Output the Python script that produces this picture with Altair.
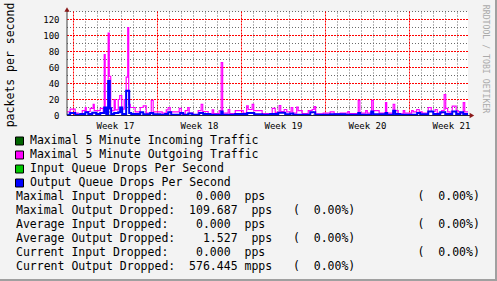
import altair as alt
import pandas as pd

# ---- data (time in days from the start of Week 17) ----
# Maximal 5 Minute Outgoing Traffic (magenta), packets per second
out_t = [-0.54, -0.28, 0.14, 0.39, 0.73, 0.98, 1.06, 1.39, 1.64, 1.73, 2.23, 2.48, 2.56, 2.64,
         2.89, 2.98, 3.10, 3.39, 3.48, 3.73, 3.85, 4.02, 4.23, 4.39, 4.52, 4.60, 4.73, 5.14,
         5.56, 5.81, 6.06, 6.48, 6.64, 7.39, 7.73, 7.89, 8.06, 8.81, 8.98, 9.31, 9.52, 9.64,
         9.98, 10.39, 10.64, 10.77, 11.22, 11.56, 11.68, 12.14, 12.31, 12.43, 12.89, 13.02,
         13.48, 14.14, 14.43, 14.56, 14.89, 15.02, 15.72, 16.56, 16.81, 17.14, 17.27, 17.56,
         17.77, 18.14, 18.27, 18.60, 18.72, 19.06, 19.56, 19.89, 20.06, 20.18, 20.81, 21.39,
         21.72, 22.22, 22.86, 22.98, 23.73, 23.86, 24.35, 24.48, 24.85, 24.98, 25.14, 25.47,
         26.00, 26.10, 26.64, 26.77, 27.06, 27.48, 27.60, 28.18, 28.31, 28.60, 28.81, 29.06,
         29.56, 29.81, 30.14, 30.31, 30.68, 30.89, 31.02, 31.18, 31.39, 31.56, 31.89, 32.06,
         32.23, 32.48, 32.60, 32.875]
out_v = [4.5, 8, 3, 1, 6, 10, 5, 9, 14, 6, 9, 4, 76, 5,
         103, 49, 6, 20, 7, 20, 25, 8, 20, 48, 110, 14, 10, 4.5,
         10, 12, 3, 19, 4.5, 3, 7, 10, 4.5, 9, 2, 6, 10, 3,
         1, 6, 14, 5, 2.5, 7, 2.5, 6, 66, 3, 7.5, 2.5,
         6, 3, 12, 7.5, 14, 6, 2.5, 9, 4, 12.5, 5, 7.5,
         4.5, 10, 3, 10.5, 6, 2.5, 6, 7.5, 11, 2, 3, 4.5,
         2, 3, 5, 2.5, 19, 3, 6, 3, 19, 6, 6, 3,
         16, 3, 14, 6, 2, 6, 3, 6, 4.5, 7.5, 4.5, 3,
         10, 5, 7.5, 3, 6, 26, 9, 4.5, 2, 11.7, 6, 4.5,
         3, 16, 4.5, 4.5]

# Output Queue Drops Per Second (blue), packets per second
drop_t = [-0.54, -0.28, 0.14, 0.56, 0.98, 1.23, 1.56, 1.89, 2.23, 2.56, 2.73, 2.89, 3.02, 3.14,
          3.39, 3.73, 3.89, 4.06, 4.39, 4.64, 4.81, 5.56, 5.81, 6.39, 6.64, 7.23, 7.64, 7.89,
          8.14, 8.89, 9.14, 9.56, 9.89, 10.48, 10.81, 11.39, 12.31, 12.43, 13.48, 14.48, 15.06,
          15.72, 16.39, 17.06, 17.64, 18.06, 18.31, 19.73, 20.14, 21.39, 22.64, 23.73, 23.89,
          24.81, 24.98, 26.00, 26.14, 26.64, 26.81, 27.23, 28.64, 28.89, 29.56, 29.98, 30.56,
          30.98, 31.56, 31.89, 32.23, 32.48, 32.875]
drop_v = [1, 3, 1, 2, 4, 2, 3.5, 2, 3, 10, 2, 43, 9, 2,
          3, 4, 10, 2, 31, 3, 2, 4, 1.5, 3, 1.5, 1, 2, 4,
          1, 3, 1, 2.5, 1, 3, 2, 1, 5, 1, 2, 3, 1.5,
          1, 2, 3.5, 1.5, 2.5, 1, 4, 1, 1.5, 1, 3, 1,
          5, 1.5, 3, 1, 6, 2, 1, 3, 1.5, 5, 2, 4,
          2, 5, 2, 4, 2, 2]

week_labels = ["Week 17", "Week 18", "Week 19", "Week 20", "Week 21"]
y_tick_values = [0, 20, 40, 60, 80, 100, 120]
y_title = "packets per second"

legend_items = ["Maximal 5 Minute Incoming Traffic", "Maximal 5 Minute Outgoing Traffic",
                "Input Queue Drops Per Second", "Output Queue Drops Per Second"]
legend_colors = ["#006400", "#ff00ff", "#00c800", "#0000ff"]

stat_labels = ["Maximal Input Dropped:", "Maximal Output Dropped:", "Average Input Dropped:",
               "Average Output Dropped:", "Current Input Dropped:", "Current Output Dropped:"]
stat_values = ["0.000", "109.687", "0.000", "1.527", "0.000", "576.445"]
stat_units = ["pps", "pps", "pps", "pps", "pps", "mpps"]
stat_pcts = ["(  0.00%)"] * 6

watermark = "RRDTOOL / TOBI OETIKER"

# ---- layout ----
PL, PT = 67, 11.5        # plot origin inside the 497x281 canvas
W, H = 401, 104
MONO = "DejaVu Sans Mono"
X0, X1 = -0.5417, 32.875
Y1 = 130

xscale = alt.Scale(domain=[X0, X1], nice=False, zero=False)
yscale = alt.Scale(domain=[0, Y1], nice=False, zero=True)

n_days = 33
week_lines = [d for d in range(n_days) if d % 7 == 0]
day_lines = [d for d in range(n_days) if d % 7 != 0]
week_mid = [7 * i + 3.5 for i in range(len(week_labels))]

one = pd.DataFrame({"a": [0]})
layers = []


def hgrid(vals, color, dash):
    return alt.Chart(pd.DataFrame({"v": vals})).mark_rule(
        color=color, strokeDash=dash, strokeWidth=1, opacity=1
    ).encode(y=alt.Y("v:Q", scale=yscale, axis=None),
             x=alt.datum(X0, scale=xscale, axis=None), x2=alt.datum(X1))


def vgrid(vals, color, dash):
    return alt.Chart(pd.DataFrame({"d": vals})).mark_rule(
        color=color, strokeDash=dash, strokeWidth=1, opacity=1
    ).encode(x=alt.X("d:Q", scale=xscale, axis=None),
             y=alt.datum(0, scale=yscale, axis=None), y2=alt.datum(Y1))


layers += [hgrid(list(range(10, 131, 20)), "#6a6a6a", [1, 2]),
           vgrid(day_lines, "#6a6a6a", [1, 2]),
           hgrid(list(range(20, 121, 20)), "#ff0000", [2, 1]),
           vgrid(week_lines, "#ff0000", [2, 1])]

# series
layers.append(alt.Chart(pd.DataFrame({"t": out_t, "v": out_v})).mark_line(
    interpolate="step-after", color="#ff00ff", strokeWidth=1.2
).encode(x=alt.X("t:Q", scale=xscale, axis=None), y=alt.Y("v:Q", scale=yscale, axis=None)))
layers.append(alt.Chart(pd.DataFrame({"t": drop_t, "v": drop_v})).mark_line(
    interpolate="step-after", color="#0000ff", strokeWidth=2
).encode(x=alt.X("t:Q", scale=xscale, axis=None), y=alt.Y("v:Q", scale=yscale, axis=None)))

# axes lines, arrows
layers.append(alt.Chart(one).mark_rule(color="#202040", strokeWidth=1).encode(
    x=alt.datum(X0, scale=xscale, axis=None), x2=alt.datum(33.1),
    y=alt.datum(0, scale=yscale, axis=None)))
layers.append(alt.Chart(one).mark_rule(color="#404040", strokeWidth=1).encode(
    x=alt.datum(X0, scale=xscale, axis=None),
    y=alt.datum(0, scale=yscale, axis=None), y2=alt.datum(132)))
layers.append(alt.Chart(one).mark_point(
    shape="triangle-up", filled=True, size=28, color="#8b1a1a", opacity=1
).encode(x=alt.datum(X0, scale=xscale, axis=None),
         y=alt.datum(132.5, scale=yscale, axis=None)))
layers.append(alt.Chart(one).mark_point(
    shape="triangle-right", filled=True, size=28, color="#8b1a1a", opacity=1
).encode(x=alt.datum(33.2, scale=xscale, axis=None),
         y=alt.datum(0, scale=yscale, axis=None)))

# axis labels
layers.append(alt.Chart(pd.DataFrame({"v": y_tick_values, "s": [str(v) for v in y_tick_values]}))
              .mark_text(font=MONO, fontSize=9, align="right", baseline="middle", color="#000000")
              .encode(y=alt.Y("v:Q", scale=yscale, axis=None), x=alt.value(59.5 - PL), text="s:N"))
layers.append(alt.Chart(pd.DataFrame({"t": week_mid, "s": week_labels}))
              .mark_text(font=MONO, fontSize=9, align="center", baseline="middle", color="#000000")
              .encode(x=alt.X("t:Q", scale=xscale, axis=None), y=alt.value(125.5 - PT), text="s:N"))
layers.append(alt.Chart(one).mark_text(
    font=MONO, fontSize=11.5, angle=270, align="center", baseline="middle", color="#000000"
).encode(x=alt.value(11 - PL), y=alt.value(65 - PT), text=alt.value(y_title)))

# legend squares and texts
ROW0, ROWH = 141, 14
for i, (name, col) in enumerate(zip(legend_items, legend_colors)):
    cy = ROW0 + i * ROWH
    layers.append(alt.Chart(one).mark_rect(color=col, stroke="#000000", strokeWidth=1).encode(
        x=alt.value(15.5 - PL), x2=alt.value(23.5 - PL),
        y=alt.value(cy - 4 - PT), y2=alt.value(cy + 4 - PT)))
    layers.append(alt.Chart(one).mark_text(
        font=MONO, fontSize=11.5, align="left", baseline="middle", color="#000000"
    ).encode(x=alt.value(30 - PL), y=alt.value(cy - PT), text=alt.value(name)))

for j, (lab, val, unit, pct) in enumerate(zip(stat_labels, stat_values, stat_units, stat_pcts)):
    if "Input" in lab:
        s = f"{lab:<22}{val:>9}  {unit}".ljust(58) + pct
    else:
        s = f"{lab:<23}{val:>9}{unit:>5}   {pct}"
    s = s.replace(" ", "\u00a0")
    cy = ROW0 + (4 + j) * ROWH - 0.5
    layers.append(alt.Chart(one).mark_text(
        font=MONO, fontSize=11.5, align="left", baseline="middle", color="#000000"
    ).encode(x=alt.value(16 - PL), y=alt.value(cy - PT), text=alt.value(s)))

# watermark
layers.append(alt.Chart(one).mark_text(
    font=MONO, fontSize=8.2, angle=90, align="center", baseline="middle", color="#aaaaaa"
).encode(x=alt.value(485 - PL), y=alt.value(59 - PT), text=alt.value(watermark)))

# frame (right and bottom edges)
layers.append(alt.Chart(one).mark_rule(color="#a0a0a0", strokeWidth=2).encode(
    x=alt.value(496 - PL), y=alt.value(0 - PT), y2=alt.value(281 - PT)))
layers.append(alt.Chart(one).mark_rule(color="#a0a0a0", strokeWidth=2).encode(
    x=alt.value(0 - PL), x2=alt.value(497 - PL), y=alt.value(280 - PT)))

chart = alt.layer(*layers).properties(
    width=W, height=H,
    padding={"left": PL, "top": PT, "right": 497 - PL - W, "bottom": 281 - PT - H},
    autosize=alt.AutoSizeParams(type="none"),
    background="#f3f3f3",
).configure_view(fill="#ffffff", stroke=None)

chart.save("out.html", embed_options={"renderer": "svg", "actions": False})
